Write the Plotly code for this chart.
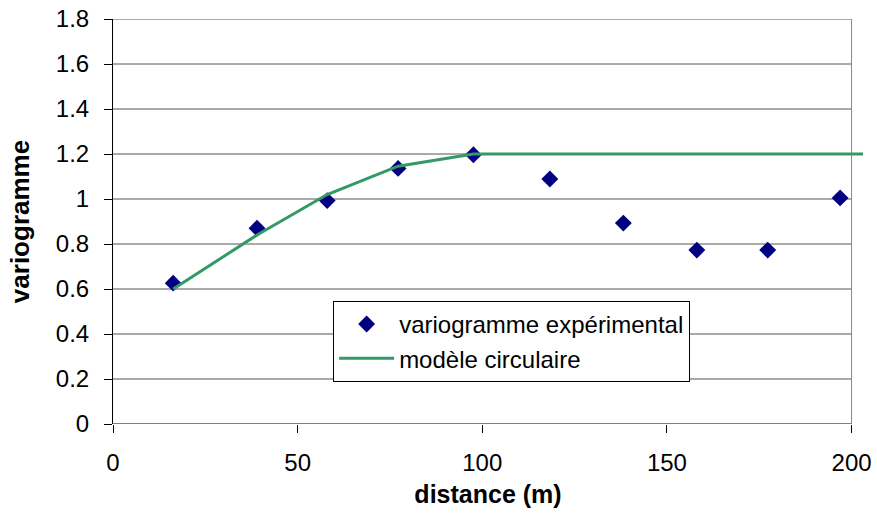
import plotly.graph_objects as go

# Experimental variogram
exp_dist = [16.3, 39.0, 58.0, 77.2, 97.6, 118.3, 138.2, 158.1, 177.3, 196.9]
exp_gamma = [0.626, 0.870, 0.993, 1.136, 1.197, 1.089, 0.893, 0.773, 0.773, 1.005]

# Circular model (vertices)
mod_dist = [16.3, 39.0, 58.0, 77.2, 97.6, 203.1]
mod_gamma = [0.60, 0.84, 1.02, 1.146, 1.20, 1.20]

y_ticks = [0, 0.2, 0.4, 0.6, 0.8, 1.0, 1.2, 1.4, 1.6, 1.8]
y_labels = ["0", "0.2", "0.4", "0.6", "0.8", "1", "1.2", "1.4", "1.6", "1.8"]
x_ticks = [0, 50, 100, 150, 200]
x_labels = ["0", "50", "100", "150", "200"]
x_max = 200
x_range_max = 203.1

FONT = "Liberation Sans, Arial, sans-serif"

fig = go.Figure()
fig.add_trace(go.Scatter(
    x=exp_dist, y=exp_gamma, mode="markers", name="variogramme expérimental",
    marker=dict(symbol="diamond", size=13, color="#000080"),
))
fig.add_trace(go.Scatter(
    x=mod_dist, y=mod_gamma, mode="lines", name="modèle circulaire",
    line=dict(color="#339966", width=3),
))

shapes = []
for v in y_ticks[1:]:
    shapes.append(dict(type="line", xref="x", yref="y", x0=0, x1=x_max, y0=v, y1=v,
                       line=dict(color="#555555", width=1), layer="below"))
# x axis line up to 200
shapes.append(dict(type="line", xref="x", yref="y", x0=0, x1=x_max, y0=0, y1=0,
                   line=dict(color="black", width=1), layer="below"))
# right border
shapes.append(dict(type="line", xref="x", yref="y", x0=x_max, x1=x_max, y0=0, y1=y_ticks[-1],
                   line=dict(color="#888888", width=1), layer="below"))

fig.update_layout(
    width=877, height=514,
    margin=dict(l=113, r=14, t=19, b=90),
    paper_bgcolor="white", plot_bgcolor="white",
    font=dict(family=FONT, size=24, color="black"),
    shapes=shapes,
    showlegend=True,
    legend=dict(x=0.2935, y=0.304, xanchor="left", yanchor="top",
                bgcolor="white", bordercolor="black", borderwidth=1,
                font=dict(family=FONT, size=24, color="black"),
                tracegroupgap=0, itemwidth=55),
    xaxis=dict(range=[0, x_range_max], tickvals=x_ticks, ticktext=x_labels,
               ticks="outside", ticklen=8, tickcolor="black", showgrid=False,
               zeroline=False, showline=False, ticklabelstandoff=9, automargin=False,
               tickfont=dict(size=24),
               title=dict(text="<b>distance (m)</b>", font=dict(size=25), standoff=10)),
    yaxis=dict(range=[0, 1.8], tickvals=y_ticks, ticktext=y_labels,
               ticks="outside", ticklen=8, tickcolor="black", showgrid=False,
               zeroline=False, showline=True, linecolor="black", linewidth=1,
               ticklabelstandoff=10, automargin=False, tickfont=dict(size=24),
               title=dict(text="<b>variogramme</b>", font=dict(size=26), standoff=18)),
)

fig.write_html("out.html")
